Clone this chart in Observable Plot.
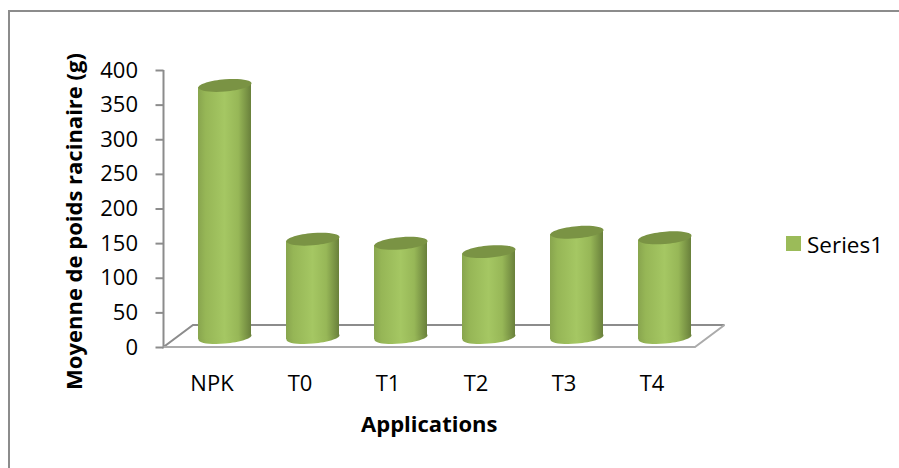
<!DOCTYPE html>
<html>
<head>
<meta charset="utf-8">
<style>
  html, body { margin: 0; padding: 0; background: #fff; }
  #chart { position: relative; width: 899px; height: 468px; overflow: hidden; font-family: "Open Sans", sans-serif; }
  #chart svg { display: block; position: absolute; left: 0; top: 0; }
  #border { position: absolute; left: 8px; top: 10px; width: 899px; height: 470px; border: 2px solid #8c8c8c; box-sizing: border-box; }
  #legend { position: absolute; left: 786px; top: 231px; display: flex; align-items: center; gap: 6px; font-size: 22.5px; line-height: 28px; color: #000; }
  #legend i { display: block; width: 15px; height: 15px; background: #9bbb59; transform: translateY(-2px); }
</style>
<script src="https://cdn.jsdelivr.net/npm/d3@7"></script>
<script src="https://cdn.jsdelivr.net/npm/@observablehq/plot@0.6"></script>
</head>
<body>
<div id="chart">
  <div id="border"></div>
  <div id="legend"><i></i><span>Series1</span></div>
</div>
<script>
// Mean root weight per application
const categories = ["NPK", "T0", "T1", "T2", "T3", "T4"];
const weights = [364, 142, 136, 124, 152, 144];
const yTicks = [0, 50, 100, 150, 200, 250, 300, 350, 400];
const seriesName = "Series1";
const yTitle = "Moyenne de poids racinaire (g)";
const xTitle = "Applications";

const rows = categories.map((category, i) => ({category, weight: weights[i], series: seriesName}));

const axisGrey = "#8c8c8c";
const fontSize = 22;
const baseLift = 10;      // cylinders stand in the middle of the floor
const floorX = 29.5;      // oblique depth of the floor
const floorY = -22;
const lean = 4.3 / 53;    // vertical drop across a cylinder's width
const radius = 26.5;
const flatten = 0.23;     // ellipse height relative to its width

// Ellipse sheared along the lean of the cylinder, drawn with four Bézier arcs.
const disc = {
  draw(ctx, size) {
    const rx = Math.sqrt(size / Math.PI), ry = rx * flatten, k = 0.5523;
    const p = (x, y) => [x, y - lean * x];
    const curve = (a, b, c) => ctx.bezierCurveTo(...p(...a), ...p(...b), ...p(...c));
    ctx.moveTo(...p(rx, 0));
    curve([rx, k * ry], [k * rx, ry], [0, ry]);
    curve([-k * rx, ry], [-rx, k * ry], [-rx, 0]);
    curve([-rx, -k * ry], [-k * rx, -ry], [0, -ry]);
    curve([k * rx, -ry], [rx, -k * ry], [rx, 0]);
    ctx.closePath();
  }
};

// Horizontal shading of the cylinder wall
function shading() {
  const defs = document.createElementNS("http://www.w3.org/2000/svg", "defs");
  defs.innerHTML = `
    <linearGradient id="wall" x1="0" x2="1" y1="0" y2="0">
      <stop offset="0" stop-color="#88a54e"/>
      <stop offset="0.14" stop-color="#96b656"/>
      <stop offset="0.5" stop-color="#a5c763"/>
      <stop offset="0.76" stop-color="#97b757"/>
      <stop offset="1" stop-color="#69803b"/>
    </linearGradient>`;
  return defs;
}

// Value axis line and the oblique floor of the plot
function floor(index, scales, values, dims) {
  const y0 = scales.y(0), y1 = scales.y(400);
  const x0 = dims.marginLeft, x1 = 695;
  const g = d3.create("svg:g").attr("fill", "none").attr("stroke-width", 2);
  g.append("path").attr("stroke", axisGrey)
    .attr("d", `M${x0},${y1}V${y0}L${x0 + floorX},${y0 + floorY}H${x1 + floorX}`);
  g.append("path").attr("stroke", "#ababab")
    .attr("d", `M${x0},${y0}H${x1}L${x1 + floorX},${y0 + floorY}`);
  return g.node();
}

// The cylinder wall shares the lean of its end discs
function leanWall(index, scales, values, dims, context, next) {
  const g = next(index, scales, values, dims, context);
  const angle = -Math.atan(lean) * 180 / Math.PI;
  d3.select(g).selectAll("rect").each(function () {
    const x = +this.getAttribute("x") + +this.getAttribute("width") / 2;
    const y = +this.getAttribute("y") + +this.getAttribute("height") / 2;
    this.setAttribute("transform", `translate(${x} ${y}) skewY(${angle}) translate(${-x} ${-y})`);
  });
  return g;
}

const plot = Plot.plot({
  width: 899,
  height: 468,
  marginLeft: 163.5,
  marginRight: 189,
  marginTop: 70,
  marginBottom: 121,
  style: {background: "transparent", fontFamily: "'Open Sans', sans-serif"},
  x: {domain: categories, range: [179.25, 710.25], paddingInner: 0.4, paddingOuter: 0.2},
  y: {domain: [0, 400]},
  marks: [
    shading,
    floor,
    Plot.axisY({ticks: yTicks, tickSize: 8, tickPadding: 18, stroke: axisGrey, strokeWidth: 2, fill: "#000", fontSize, label: null}),
    Plot.axisX({tickSize: 0, tickPadding: 28, dx: -13, fill: "#000", fontSize, label: null}),
    Plot.text([yTitle], {frameAnchor: "left", textAnchor: "middle", dx: -89, dy: 12.5, rotate: -90, fontSize, fontWeight: "bold", fill: "#000"}),
    Plot.text([xTitle], {frameAnchor: "bottom", lineAnchor: "middle", dx: -8, dy: 77, fontSize, fontWeight: "bold", fill: "#000"}),
    // base disc, wall, then the darker top disc
    Plot.dot(rows, {x: "category", y: () => 0, dy: -baseLift, r: radius, symbol: disc, fill: "url(#wall)", stroke: "none"}),
    Plot.barY(rows, {x: "category", y: "weight", dy: -baseLift, fill: "url(#wall)", render: leanWall}),
    Plot.dot(rows, {x: "category", y: "weight", dy: -baseLift, r: radius, symbol: disc, fill: "#7a9344", stroke: "none"})
  ]
});

document.getElementById("chart").appendChild(plot);
</script>
</body>
</html>
